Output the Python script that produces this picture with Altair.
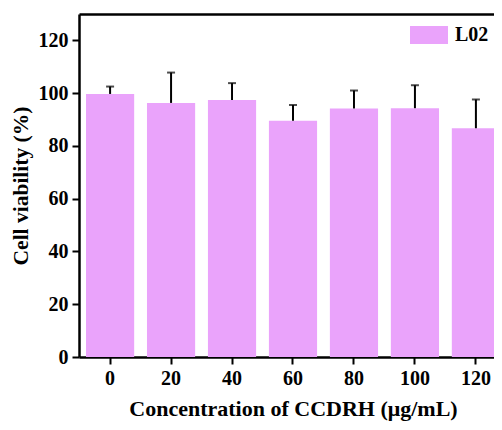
import altair as alt
import pandas as pd

concentrations = ["0", "20", "40", "60", "80", "100", "120"]
viability = [99.7, 96.3, 97.4, 89.5, 94.2, 94.3, 86.7]
errors = [2.8, 11.5, 6.4, 6.0, 6.8, 8.7, 10.9]
series = ["L02"] * 7

df = pd.DataFrame({
    "conc": concentrations,
    "val": viability,
    "err": errors,
    "series": series,
})
df["top"] = df["val"] + df["err"]

FONT = "Liberation Serif"
PINK = "#EAA3FB"

xscale = alt.Scale(paddingInner=0.21, paddingOuter=0.115, range=[0, 428])
yscale = alt.Scale(domain=[0, 130], nice=False)
base = alt.Chart(df)

bars = base.mark_bar(color=PINK, clip=True).encode(
    x=alt.X("conc:N", sort=concentrations, scale=xscale,
            axis=alt.Axis(title="Concentration of CCDRH (μg/mL)", labelAngle=0,
                          titlePadding=10, titleFontSize=22, titleX=214)),
    y=alt.Y("val:Q", scale=yscale,
            axis=alt.Axis(title="Cell viability (%)", values=[0, 20, 40, 60, 80, 100, 120],
                          titlePadding=6, grid=False, titleFontSize=21.5)),
    color=alt.Color("series:N", scale=alt.Scale(range=[PINK]),
                    legend=alt.Legend(title=None, orient="none", legendX=331, legendY=2,
                                      symbolType="M-1,-0.47H1V0.47H-1Z", symbolSize=1444,
                                      symbolStrokeWidth=0, symbolOpacity=1,
                                      labelFont=FONT, labelFontSize=20, labelFontWeight="bold",
                                      labelColor="black", labelOffset=7)),
)

err = base.mark_rule(color="black", strokeWidth=2, clip=True).encode(
    x=alt.X("conc:N", sort=concentrations, scale=xscale, axis=None),
    y=alt.Y("val:Q", scale=yscale), y2="top:Q")
caps = base.mark_tick(color="black", thickness=2, size=8, orient="horizontal", clip=True).encode(
    x=alt.X("conc:N", sort=concentrations, scale=xscale,
            axis=alt.Axis(orient="top", labels=False, ticks=False, title=None)),
    y=alt.Y("top:Q", scale=yscale))

chart = alt.layer(bars, err, caps).resolve_axis(x="independent").properties(
    width=415, height=343,
    autosize=alt.AutoSizeParams(type="none"),
    padding={"left": 71, "top": 6, "right": 0, "bottom": 65},
).configure_view(stroke=None).configure_axis(
    domainColor="black", domainWidth=2.5, tickColor="black", tickWidth=2, tickSize=7,
    labelFont=FONT, labelFontSize=20, labelFontWeight="bold", labelColor="black",
    titleFont=FONT, titleFontWeight="bold", titleColor="black",
    labelPadding=4,
).configure_bar(opacity=1)

chart.save("out.html", embed_options={"renderer": "svg", "actions": False})
